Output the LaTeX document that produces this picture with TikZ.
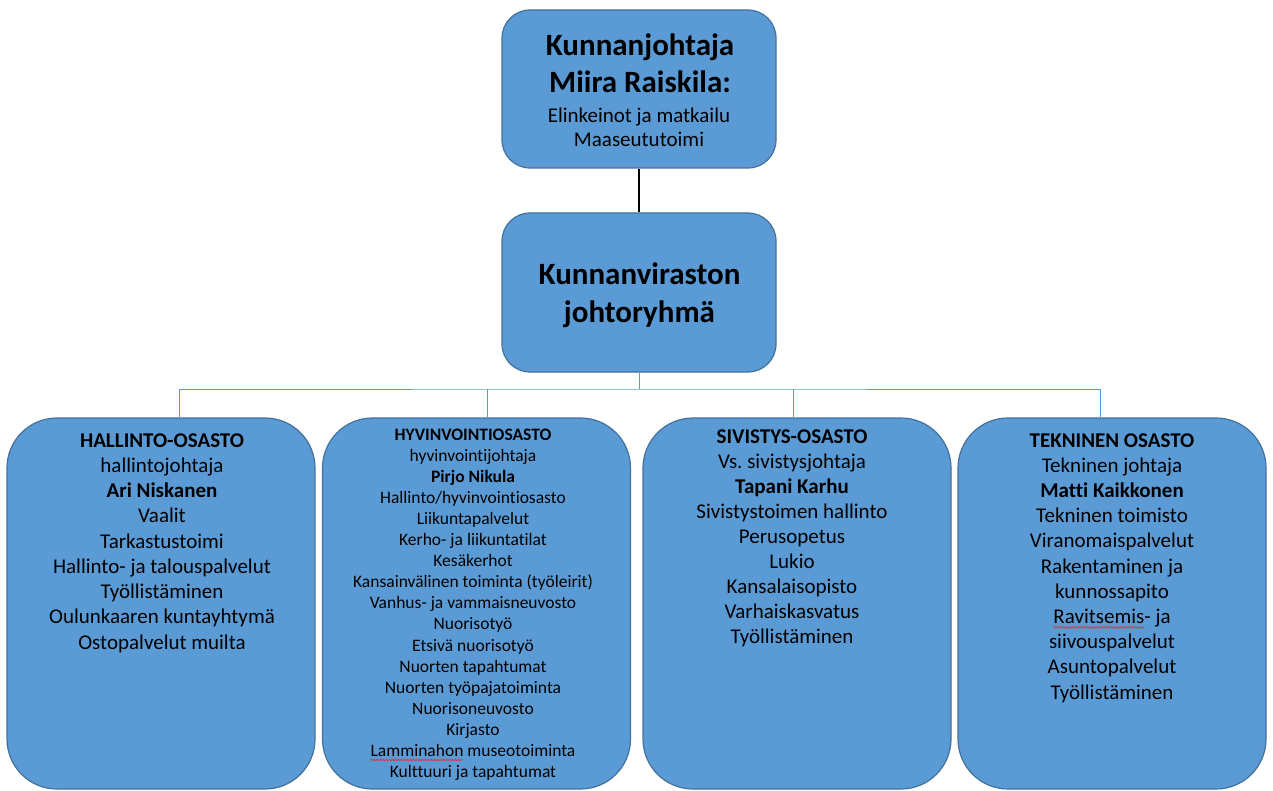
\documentclass[tikz,border=0pt]{standalone}
\usepackage{fontspec}
\setmainfont[Ligatures=NoCommon]{Carlito}
\usetikzlibrary{calc,decorations.pathmorphing}
\definecolor{boxfill}{HTML}{5B9BD5}
\definecolor{boxline}{HTML}{41719C}
\definecolor{busline}{HTML}{5B9BD5}
\definecolor{spell}{HTML}{E03030}
\newlength\lamw
\newlength\ravw
\frenchspacing
\begin{document}
\settowidth{\lamw}{\fontsize{17.5}{21}\selectfont Lamminahon}%
\settowidth{\ravw}{\fontsize{21}{25}\selectfont Ravitsemis}%
\begin{tikzpicture}[x=1pt,y=-1pt,
  basebox/.style={draw=boxline, fill=boxfill, line width=1.2pt, inner sep=0pt},
  topbox/.style={basebox, rounded corners=28pt, minimum width=274pt, minimum height=158pt},
  deptbox/.style={basebox, rounded corners=50pt, minimum width=308pt, minimum height=371pt},
  bus/.style={draw=busline, line width=1pt},
  chief/.style={draw=black, line width=1.2pt},
  ln/.style={anchor=base, inner sep=0pt, text=black},
  big/.style={ln, font=\fontsize{31}{37}\selectfont\bfseries},
  txt/.style={ln, font=\fontsize{21}{25}\selectfont},
  sub/.style={ln, font=\fontsize{21}{24.5}\selectfont},
  small/.style={ln, font=\fontsize{17.5}{21}\selectfont},
  squig/.style={draw=spell, line width=0.7pt, decorate, decoration={snake, amplitude=0.8pt, segment length=3pt}}]
\useasboundingbox (0,0) rectangle (1273,791);

% boxes
\node[topbox] (kj) at (639,89) {};
\node[topbox, minimum height=159pt] (jr) at (639,292.5) {};
\node[deptbox] (h1) at (161,603.5) {};
\node[deptbox] (h2) at (476.5,603.5) {};
\node[deptbox] (h3) at (797,603.5) {};
\node[deptbox] (h4) at (1112,603.5) {};

% connectors
\draw[chief] (kj.south) -- (jr.north);
\coordinate (bus) at (639,389);
\coordinate (d1) at ($(h1.north)+(18pt,0pt)$);
\coordinate (d2) at ($(h2.north)+(10.5pt,0pt)$);
\coordinate (d3) at ($(h3.north)+(-4pt,0pt)$);
\coordinate (d4) at ($(h4.north)+(-12pt,0pt)$);
\draw[bus] (jr.south) -- (bus);
\draw[bus] (d1) |- (bus) -| (d4);
\draw[bus] (d2) -- (d2 |- bus);
\draw[bus] (d3) -- (d3 |- bus);

% top box text
\node[big] (kj1) at (640,56) {Kunnanjohtaja};
\node[big] (kj2) at (640,93) {Miira Raiskila:};
\node[sub] (kj3) at (639,122.5) {Elinkeinot ja matkailu};
\node[sub] (kj4) at (639,147) {Maaseututoimi};

% johtoryhmä text
\node[big] (jr1) at (639.5,285) {Kunnanviraston};
\node[big] (jr2) at (639.5,322) {johtoryhmä};

% department texts
\foreach \t [count=\i from 0] in {\textbf{HALLINTO-OSASTO}, hallintojohtaja, \textbf{Ari Niskanen}, Vaalit, Tarkastustoimi, Hallinto- ja talouspalvelut, Työllistäminen, Oulunkaaren kuntayhtymä, Ostopalvelut muilta}
  \node[txt] (h1l\i) at (162,447+25.25*\i) {\t};

\foreach \t [count=\i from 0] in {\textbf{HYVINVOINTIOSASTO}, hyvinvointijohtaja, \textbf{Pirjo Nikula}, Hallinto/hyvinvointiosasto, Liikuntapalvelut, Kerho- ja liikuntatilat, Kesäkerhot, Kansainvälinen toiminta (työleirit), Vanhus- ja vammaisneuvosto, Nuorisotyö, Etsivä nuorisotyö, Nuorten tapahtumat, Nuorten työpajatoiminta, Nuorisoneuvosto, Kirjasto, Lamminahon museotoiminta, Kulttuuri ja tapahtumat}
  \node[small] (h2l\i) at (473,440+21.1*\i) {\t};

\foreach \t [count=\i from 0] in {\textbf{SIVISTYS-OSASTO}, Vs. sivistysjohtaja, \textbf{Tapani Karhu}, Sivistystoimen hallinto, Perusopetus, Lukio, Kansalaisopisto, Varhaiskasvatus, Työllistäminen}
  \node[txt] (h3l\i) at (792,443+25.1*\i) {\t};

\foreach \t [count=\i from 0] in {\textbf{TEKNINEN OSASTO}, Tekninen johtaja, \textbf{Matti Kaikkonen}, Tekninen toimisto, Viranomaispalvelut, Rakentaminen ja, kunnossapito, Ravitsemis- ja, siivouspalvelut, Asuntopalvelut, Työllistäminen}
  \node[txt] (h4l\i) at (1112,447+25.2*\i) {\t};

% spell-check underlines
\draw[squig] ($(h2l15.base west)+(0pt,-3.5pt)$) -- ($(h2l15.base west)+(\lamw,-3.5pt)$);
\draw[squig] ($(h4l7.base west)+(0pt,-4pt)$) -- ($(h4l7.base west)+(\ravw,-4pt)$);
\end{tikzpicture}
\end{document}
